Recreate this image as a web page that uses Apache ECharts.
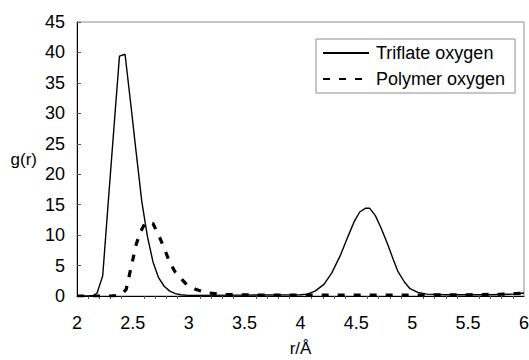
<!DOCTYPE html>
<html>
<head>
<meta charset="utf-8">
<script src="https://cdn.jsdelivr.net/npm/echarts@6/dist/echarts.min.js"></script>
<style>
  html, body { margin: 0; padding: 0; background: #fff; overflow: hidden; }
  #container { width: 529px; height: 360px; }
</style>
</head>
<body>
<div id="container"></div>
<script>
// r values (Angstrom) and g(r)
var rTriflate = [2.0, 2.1, 2.15, 2.18, 2.23, 2.28, 2.33, 2.38, 2.43, 2.48, 2.53, 2.58, 2.63, 2.68, 2.73, 2.78,
    2.83, 2.88, 2.93, 3.0, 3.5, 4.0, 4.06, 4.13, 4.21, 4.28, 4.36, 4.43, 4.48, 4.53, 4.58, 4.62, 4.67,
    4.72, 4.78, 4.83, 4.87, 4.93, 4.98, 5.05, 5.13, 5.3, 5.7, 5.9, 6.0];
var gTriflate = [0, 0, 0.1, 0.5, 3.3, 15.5, 27.5, 39.4, 39.7, 31.7, 23.5, 15.5, 9.8, 5.6, 3.0, 1.6,
    0.8, 0.4, 0.2, 0.1, 0.15, 0.2, 0.3, 0.8, 1.9, 3.8, 6.8, 10.0, 12.2, 13.8, 14.4, 14.4, 13.2,
    11.2, 8.5, 6.0, 4.1, 2.3, 1.2, 0.6, 0.3, 0.2, 0.2, 0.3, 0.5];

var rPolymer = [2.0, 2.3, 2.37, 2.41, 2.44, 2.49, 2.53, 2.57, 2.61, 2.64, 2.68, 2.74, 2.79, 2.83, 2.88,
    2.94, 2.98, 3.06, 3.16, 3.3, 3.6, 4.0, 4.5, 5.0, 5.5, 5.8, 6.0];
var gPolymer = [0, 0, 0.1, 0.5, 1.1, 5.2, 8.5, 10.6, 12.0, 12.1, 11.9, 9.6, 7.4, 5.5, 3.9,
    2.7, 1.9, 1.1, 0.55, 0.25, 0.15, 0.15, 0.15, 0.15, 0.2, 0.3, 0.45];

var seriesNames = ['Triflate oxygen', 'Polymer oxygen'];
var xTicks = { min: 2, max: 6, interval: 0.5 };
var yTicks = { min: 0, max: 45, interval: 5 };

function pairs(xs, ys) {
    return xs.map(function (x, i) { return [x, ys[i]]; });
}

var dom = document.getElementById('container');
var myChart = echarts.init(dom, null, { renderer: 'svg' });

var font = 'Liberation Sans, Arial, sans-serif';

var option = {
    animation: false,
    backgroundColor: '#fff',
    grid: {
        left: 77,
        right: 5,
        top: 22,
        bottom: 64,
        outerBoundsMode: 'none',
        show: true,
        borderColor: '#8c8c8c',
        borderWidth: 1,
        backgroundColor: 'transparent'
    },
    legend: {
        data: seriesNames,
        orient: 'vertical',
        left: 316,
        top: 39,
        padding: [5, 10, 5, 6],
        itemGap: 8,
        itemWidth: 46,
        itemHeight: 14,
        borderColor: '#8c8c8c',
        borderWidth: 1,
        backgroundColor: '#fff',
        itemStyle: { opacity: 0 },
        textStyle: { fontFamily: font, fontSize: 18, color: '#000', padding: [0, 0, 0, 2] }
    },
    xAxis: {
        type: 'value',
        min: xTicks.min,
        max: xTicks.max,
        interval: xTicks.interval,
        name: 'r/Å',
        nameLocation: 'middle',
        nameGap: 44,
        nameTextStyle: { fontFamily: font, fontSize: 17, color: '#000' },
        axisLine: { show: true, onZero: false, lineStyle: { color: '#000', width: 1 } },
        axisTick: { show: false },
        minorTick: { show: true, splitNumber: 5, length: 3, lineStyle: { color: '#555' } },
        splitLine: { show: false },
        axisLabel: { fontFamily: font, fontSize: 18, color: '#000', margin: 18 }
    },
    yAxis: {
        type: 'value',
        min: yTicks.min,
        max: yTicks.max,
        interval: yTicks.interval,
        name: 'g(r)',
        nameLocation: 'middle',
        nameRotate: 0,
        nameGap: 40,
        nameTextStyle: { fontFamily: font, fontSize: 17, color: '#000' },
        axisLine: { show: true, onZero: false, lineStyle: { color: '#000', width: 1 } },
        axisTick: { show: true, inside: true, length: 4, lineStyle: { color: '#555' } },
        splitLine: { show: false },
        axisLabel: { fontFamily: font, fontSize: 18, color: '#000', margin: 12 }
    },
    series: [
        {
            name: seriesNames[0],
            type: 'line',
            symbol: 'none',
            data: pairs(rTriflate, gTriflate),
            lineStyle: { color: '#000', width: 1.4 },
            itemStyle: { color: '#000' },
            z: 3
        },
        {
            name: seriesNames[1],
            type: 'line',
            symbol: 'none',
            data: pairs(rPolymer, gPolymer),
            lineStyle: { color: '#000', width: 3.2, type: [7, 9] },
            itemStyle: { color: '#000' },
            z: 2
        }
    ]
};

myChart.setOption(option);
window.addEventListener('resize', myChart.resize);
</script>
</body>
</html>
